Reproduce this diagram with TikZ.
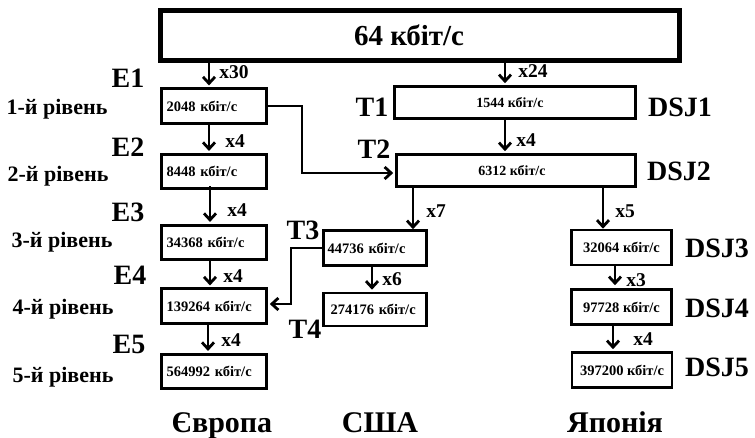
\documentclass[tikz,border=0pt]{standalone}
\usepackage{fontspec}
\setmainfont{Liberation Serif}
\usetikzlibrary{arrows.meta}
\newcommand{\fsz}[1]{\fontsize{#1}{#1}\selectfont\bfseries}
\begin{document}
\begin{tikzpicture}[x=1pt,y=-1pt,
  box/.style={draw,line width=2.6pt,inner sep=0pt,font=\fsz{14.5}},
  lbox/.style={box,minimum width=105pt,minimum height=34.5pt,text width=95pt,align=left},
  tbox/.style={box,minimum height=32pt,font=\fsz{14}},
  jbox/.style={box,minimum width=100pt,minimum height=35pt},
  biglab/.style={font=\fsz{28}},
  lvl/.style={font=\fsz{22},anchor=base},
  mul/.style={font=\fsz{19.5}},
  region/.style={font=\fsz{30},anchor=base},
  arr/.style={line width=2.8pt,-{Straight Barb[length=6.5pt,width=12pt]},shorten >=2pt}
]
\useasboundingbox (0,0) rectangle (755,438);

% top box
\node[draw,line width=5pt,minimum width=519pt,minimum height=50pt,inner sep=0pt,font=\fsz{29}] (top) at (420,35.5) {64 кбіт/с\hspace*{22pt}};

% Europe
\node[lbox] (E1box) at (214,106) {2048 кбіт/с};
\node[lbox] (E2box) at (214,171.5) {8448 кбіт/с};
\node[lbox] (E3box) at (214,242.5) {34368 кбіт/с};
\node[lbox] (E4box) at (214,306) {139264 кбіт/с};
\node[lbox] (E5box) at (214,371.5) {564992 кбіт/с};

\node[biglab] (E1) at (128,78) {E1};
\node[biglab] (E2) at (128,147.5) {E2};
\node[biglab] (E3) at (128,212.5) {E3};
\node[biglab] (E4) at (130,275) {E4};
\node[biglab] (E5) at (129,344) {E5};

\node[lvl] (L1) at (57,115) {1-й рівень};
\node[lvl] (L2) at (58,182) {2-й рівень};
\node[lvl] (L3) at (62,248) {3-й рівень};
\node[lvl] (L4) at (63,315) {4-й рівень};
\node[lvl] (L5) at (63,382) {5-й рівень};

% USA
\node[tbox,minimum width=241pt] (T1box) at (515,102.5) {1544 кбіт/с\hspace*{10pt}};
\node[tbox,minimum width=239pt] (T2box) at (516,170.5) {6312 кбіт/с\hspace*{8pt}};
\node[box,minimum width=103pt,minimum height=35pt,text width=95pt,align=left] (T3box) at (375,248) {44736 кбіт/с};
\node[box,minimum width=103pt,minimum height=33pt,text width=95pt,align=left] (T4box) at (375,309.5) {\hspace*{3pt}274176 кбіт/с};

\node[biglab] (T1) at (372,107.5) {T1};
\node[biglab] (T2) at (374,149) {T2};
\node[biglab] (T3) at (303,230) {T3};
\node[biglab] (T4) at (305,329) {T4};

% Japan
\node[jbox] (J3box) at (621.5,247.5) {32064 кбіт/с};
\node[jbox] (J4box) at (621.5,307) {97728 кбіт/с};
\node[jbox] (J5box) at (622,370) {397200 кбіт/с};

\node[biglab] (DSJ1) at (680,107.5) {DSJ1};
\node[biglab] (DSJ2) at (679,171) {DSJ2};
\node[biglab] (DSJ3) at (717,248) {DSJ3};
\node[biglab] (DSJ4) at (717,308) {DSJ4};
\node[biglab] (DSJ5) at (717,367) {DSJ5};

% multipliers
\node[mul] (m30) at (234,72.5) {x30};
\node[mul] (m24) at (533,71.5) {x24};
\node[mul] (mE2) at (235,141) {x4};
\node[mul] (mE3) at (237,210) {x4};
\node[mul] (mE4) at (233,276) {x4};
\node[mul] (mE5) at (231,340) {x4};
\node[mul] (mT2) at (526,140) {x4};
\node[mul] (m7) at (436,211) {x7};
\node[mul] (m6) at (392,279) {x6};
\node[mul] (m5) at (625,211) {x5};
\node[mul] (m3) at (636,280) {x3};
\node[mul] (mJ5) at (643,339) {x4};

% region names
\node[region] (EU) at (222,432) {Європа};
\node[region] (US) at (380,432) {США};
\node[region] (JP) at (615,432) {Японія};

% vertical arrows
\draw[arr] (top.south -| 209,0) -- (E1box.north -| 209,0);
\draw[arr] ([yshift=2pt]E1box.south -| 209,0) -- (E2box.north -| 209,0);
\draw[arr] ([yshift=4pt]E2box.south -| 210,0) -- (E3box.north -| 210,0);
\draw[arr] (E3box.south -| 210,0) -- (E4box.north -| 210,0);
\draw[arr] (E4box.south -| 208,0) -- (E5box.north -| 208,0);

\draw[arr] (top.south -| 505,0) -- (T1box.north -| 505,0);
\draw[arr] (T1box.south -| 505,0) -- (T2box.north -| 505,0);
\draw[arr] (T2box.south -| 413,0) -- ([yshift=-2pt]T3box.north -| 413,0);
\draw[arr] (T3box.south -| 372,0) -- (T4box.north -| 372,0);

\draw[arr] (T2box.south -| 603,0) -- ([yshift=-2pt]J3box.north -| 603,0);
\draw[arr] (J3box.south -| 615,0) -- ([yshift=1pt]J4box.north -| 615,0);
\draw[arr] (J4box.south -| 613,0) -- (J5box.north -| 613,0);

% elbow connectors
\coordinate (c1) at (302,173);
\draw[arr] (E1box.east) -| (c1) -- (T2box.west |- c1);
\coordinate (c2) at (291,304);
\draw[arr] (T3box.west) -| (c2) -- (E4box.east |- c2);
\end{tikzpicture}
\end{document}
